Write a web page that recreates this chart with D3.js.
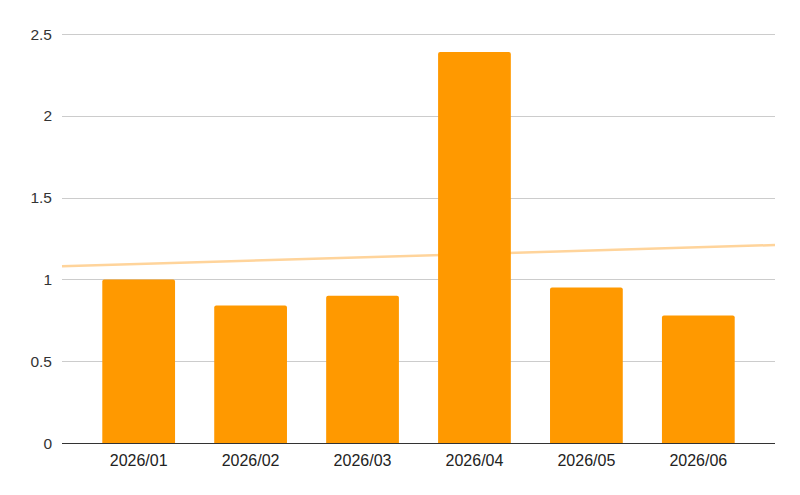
<!DOCTYPE html>
<html>
<head>
<meta charset="utf-8">
<script src="https://cdn.jsdelivr.net/npm/d3@7"></script>
<style>
html,body{margin:0;padding:0;background:#fff;}
svg{display:block;}
</style>
</head>
<body>
<svg id="chart" width="800" height="495"></svg>
<script>
const categories = ["2026/01","2026/02","2026/03","2026/04","2026/05","2026/06"];
const values = [1.0, 0.84, 0.9, 2.39, 0.95, 0.78];
const yTicks = [0, 0.5, 1, 1.5, 2, 2.5];
const trendValues = [1.08, 1.21]; // trendline at left and right edges of plot

const W = 800, H = 495;
const m = {left: 62, right: 25, top: 34, bottom: 52};
const svg = d3.select("#chart");

const x = d3.scaleBand().domain(categories).range([m.left, W - m.right])
  .paddingInner(0.35).paddingOuter(0.36);
const y = d3.scaleLinear().domain([0, 2.5]).range([H - m.bottom, m.top]);

// gridlines
svg.append("g").selectAll("line").data(yTicks.filter(d => d !== 0)).join("line")
  .attr("x1", m.left).attr("x2", W - m.right)
  .attr("y1", d => Math.round(y(d)) + 0.5).attr("y2", d => Math.round(y(d)) + 0.5)
  .attr("stroke", "#cccccc").attr("stroke-width", 1);

// y labels
svg.append("g").selectAll("text").data(yTicks).join("text")
  .attr("x", m.left - 10).attr("y", d => y(d)).attr("dy", "0.36em")
  .attr("text-anchor", "end")
  .attr("font-family", "'Liberation Sans', Arial, sans-serif").attr("font-size", 15.5)
  .attr("fill", "#333").text(d => d);

// trendline (behind bars)
const tx = d3.scaleLinear().domain([0, 1]).range([m.left, W - m.right]);
svg.append("line")
  .attr("x1", tx(0)).attr("y1", y(trendValues[0]))
  .attr("x2", tx(1)).attr("y2", y(trendValues[1]))
  .attr("stroke", "#ffd49b").attr("stroke-width", 2.5);

// bars
svg.append("g").selectAll("path").data(values).join("path")
  .attr("fill", "#ff9900")
  .attr("d", (d, i) => {
    const x0 = x(categories[i]), w = x.bandwidth(), y0 = y(d), yb = y(0), r = 2;
    return `M${x0},${yb}V${y0 + r}Q${x0},${y0} ${x0 + r},${y0}H${x0 + w - r}Q${x0 + w},${y0} ${x0 + w},${y0 + r}V${yb}Z`;
  });

// baseline
svg.append("line")
  .attr("x1", m.left).attr("x2", W - m.right)
  .attr("y1", Math.round(y(0)) + 0.5).attr("y2", Math.round(y(0)) + 0.5)
  .attr("stroke", "#333").attr("stroke-width", 1);

// x labels
svg.append("g").selectAll("text").data(categories).join("text")
  .attr("x", d => x(d) + x.bandwidth() / 2).attr("y", y(0) + 23)
  .attr("text-anchor", "middle")
  .attr("font-family", "'Liberation Sans', Arial, sans-serif").attr("font-size", 16)
  .attr("fill", "#222").text(d => d);
</script>
</body>
</html>
